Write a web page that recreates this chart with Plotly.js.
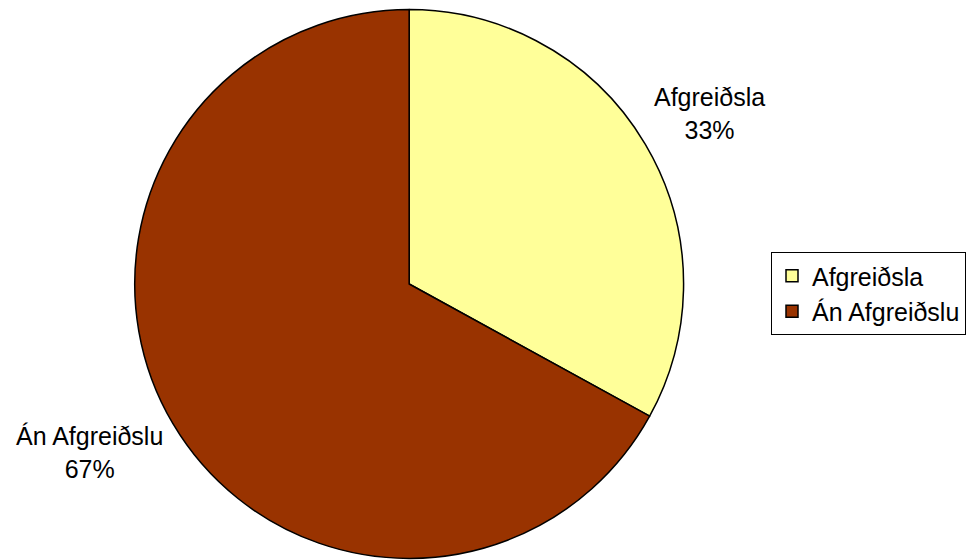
<!DOCTYPE html>
<html>
<head>
<meta charset="utf-8">
<script src="https://cdn.plot.ly/plotly-3.0.1.min.js"></script>
<style>
  html, body { margin: 0; padding: 0; background: #ffffff; }
  #chart { width: 966px; height: 560px; }
</style>
</head>
<body>
<div id="chart"></div>
<script>
// Share of cases with and without processing
const categories = ['Afgreiðsla', 'Án Afgreiðslu'];
const shares = [33, 67];
const sliceColors = ['#FFFF99', '#993300'];

// Outside label anchors (paper coordinates), one per category
const labelX = [711 / 966, 90 / 966];
const labelY = [1 - 114 / 560, 1 - 452 / 560];

const total = shares.reduce((a, b) => a + b, 0);
const textFont = { family: 'Liberation Sans, Arial, sans-serif', size: 25, color: '#000000' };

const annotations = categories.map((c, i) => ({
  xref: 'paper', yref: 'paper',
  x: labelX[i], y: labelY[i],
  xanchor: 'center', yanchor: 'middle',
  text: c + '<br>' + Math.round(100 * shares[i] / total) + '%',
  showarrow: false,
  font: textFont
}));

const trace = {
  type: 'pie',
  labels: categories,
  values: shares,
  sort: false,
  direction: 'clockwise',
  rotation: 0,
  textinfo: 'none',
  hoverinfo: 'label+percent',
  marker: { colors: sliceColors, line: { color: '#000000', width: 1.5 } },
  domain: { x: [135 / 966, 685 / 966], y: [1 - 559 / 560, 1 - 9 / 560] }
};

const layout = {
  width: 966, height: 560,
  margin: { l: 0, r: 0, t: 0, b: 0 },
  paper_bgcolor: '#ffffff',
  showlegend: true,
  legend: {
    x: 773 / 966, y: 1 - 252 / 560,
    xanchor: 'left', yanchor: 'top',
    bgcolor: '#ffffff',
    bordercolor: '#000000', borderwidth: 1,
    font: textFont,
    itemwidth: 30
  },
  annotations: annotations
};

Plotly.newPlot('chart', [trace], layout, { staticPlot: true });
</script>
</body>
</html>
